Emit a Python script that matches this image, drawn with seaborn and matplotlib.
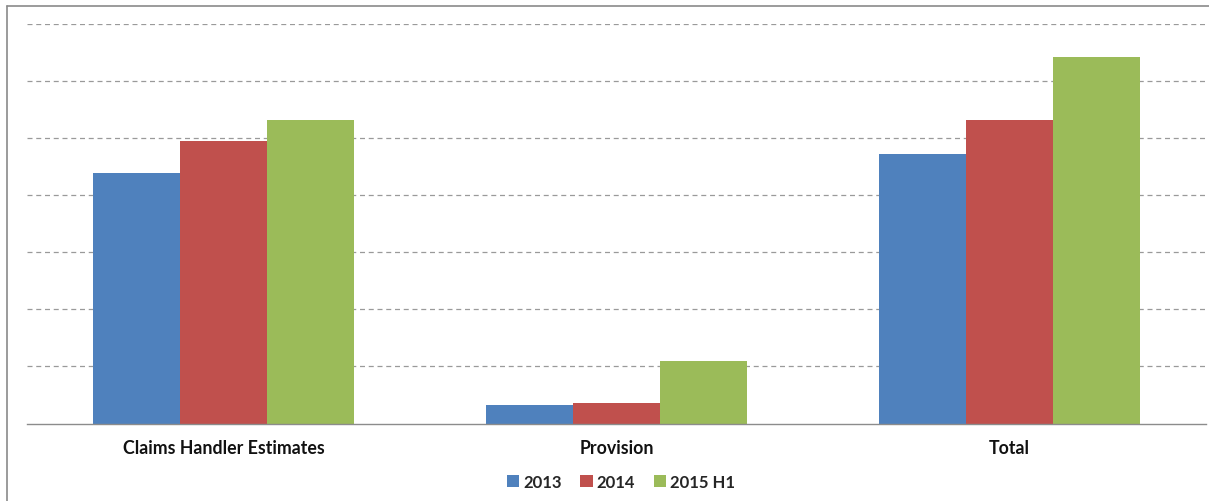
import matplotlib
matplotlib.use("Agg")
import matplotlib.pyplot as plt
from matplotlib.lines import Line2D
from matplotlib.patches import Patch
import seaborn as sns
import pandas as pd

categories = ["Claims Handler Estimates", "Provision", "Total"]
series = ["2013", "2014", "2015 H1"]
values_2013 = [4.39, 0.32, 4.72]
values_2014 = [4.95, 0.36, 5.32]
values_2015h1 = [5.32, 1.09, 6.43]
colors = ["#4F81BD", "#C0504D", "#9BBB59"]

rows = []
for name, vals in zip(series, [values_2013, values_2014, values_2015h1]):
    for cat, v in zip(categories, vals):
        rows.append({"category": cat, "period": name, "value": v})
df = pd.DataFrame(rows)

sns.set_style("white")
plt.rcParams["font.family"] = ["Lato", "DejaVu Sans"]

W, H = 1209, 502
fig = plt.figure(figsize=(W / 100, H / 100), dpi=100)
ax = fig.add_axes([27 / W, (H - 424.5) / H, (1206 - 27) / W, (424.5 - 25) / H])

sns.barplot(data=df, x="category", y="value", hue="period", order=categories,
            hue_order=series, palette=colors, width=0.665, saturation=1,
            linewidth=0, errorbar=None, ax=ax, legend=False)

ax.set_ylim(0, 7)
ax.set_xlim(-0.5, 2.5)
ax.set_yticks(range(1, 8))
ax.set_yticklabels([])
ax.tick_params(axis="y", length=0)
ax.yaxis.grid(True, linestyle=(0, (4, 3)), color="#9A9A9A", linewidth=0.9)
ax.set_axisbelow(True)
ax.set_xlabel("")
ax.set_ylabel("")

for side in ["top", "left", "right"]:
    ax.spines[side].set_visible(False)
ax.spines["bottom"].set_color("#8C8C8C")
ax.spines["bottom"].set_linewidth(1.0)

ax.set_xticks([0, 1, 2])
ax.set_xticklabels(categories, fontsize=12.8, fontweight="bold", color="#111111")
ax.tick_params(axis="x", which="major", length=0, pad=11)
ax.set_xticks([-0.5, 0.5, 1.5, 2.5], minor=True)
ax.tick_params(axis="x", which="minor", length=6, color="#8C8C8C", width=1.0)

handles = [Patch(facecolor=c, edgecolor="none") for c in colors]
fig.legend(handles, series, loc="center", bbox_to_anchor=(621 / W, 19 / H), ncol=3,
           frameon=False, prop={"size": 12, "weight": "bold"},
           handlelength=0.75, handleheight=0.7, handletextpad=0.25,
           columnspacing=1.1)

# outer chart border (top and left edges)
fig.add_artist(Line2D([7 / W, 1.0], [1 - 7 / H, 1 - 7 / H], transform=fig.transFigure,
                      color="#8A8A8A", linewidth=1.2))
fig.add_artist(Line2D([7 / W, 7 / W], [0.0, 1 - 7 / H], transform=fig.transFigure,
                      color="#8A8A8A", linewidth=1.2))

fig.savefig("out.png", dpi=100, facecolor="white")
